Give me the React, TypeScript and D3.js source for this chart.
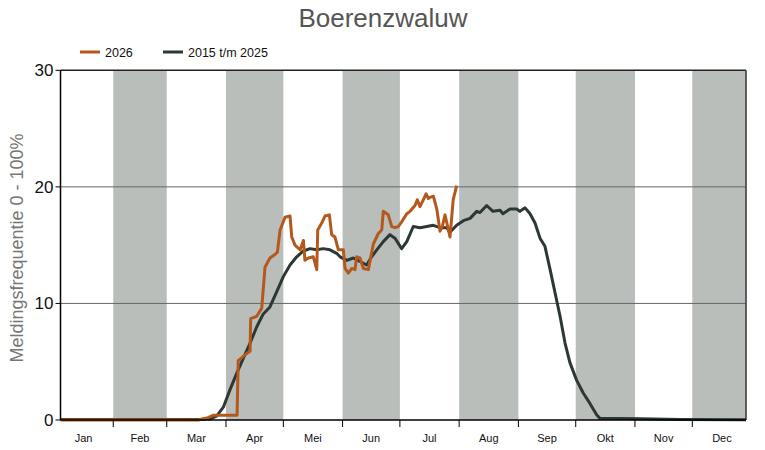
import React from "react";
import * as d3 from "d3";

const title = "Boerenzwaluw";
const yLabel = "Meldingsfrequentie 0 - 100%";
const seriesNames = ["2026", "2015 t/m 2025"];
const monthNames = ["Jan", "Feb", "Mar", "Apr", "Mei", "Jun", "Jul", "Aug", "Sep", "Okt", "Nov", "Dec"];
const monthStarts = [0, 31, 59, 90, 120, 151, 181, 212, 243, 273, 304, 334, 365];
const shadedMonths = [1, 3, 5, 7, 9, 11];
const yTicks = [0, 10, 20, 30];

// day of year (0 = 1 Jan), value
const days2026 = [3.4, 75.4, 80.6, 83.2, 95.8, 96.4, 100.8, 102.6, 102.9, 106.1, 108.7, 110.4, 113.0, 115.6, 116.9, 118.3, 120.9, 123.5, 124.4, 126.1, 128.8, 130.5, 131.3, 133.1, 135.7, 137.5, 138.0, 140.1, 141.8, 144.1, 145.3, 147.0, 148.8, 151.4, 152.3, 154.0, 155.8, 157.5, 158.4, 160.1, 161.9, 164.5, 167.1, 169.7, 171.5, 172.3, 174.9, 176.7, 178.4, 180.2, 181.9, 184.6, 186.3, 188.9, 190.1, 191.5, 193.3, 194.7, 195.9, 196.8, 198.5, 200.3, 202.0, 203.2, 204.6, 207.2, 208.9, 210.7];
const values2026 = [0.0, 0.0, 0.2, 0.4, 0.4, 5.1, 5.7, 5.9, 8.7, 8.9, 9.6, 13.1, 13.9, 14.2, 14.4, 16.3, 17.4, 17.5, 15.7, 15.0, 14.6, 15.4, 13.7, 13.9, 14.0, 12.9, 16.3, 16.9, 17.5, 17.6, 15.9, 15.7, 14.6, 14.6, 13.0, 12.6, 13.0, 12.9, 14.0, 13.9, 13.0, 12.9, 15.1, 16.0, 16.3, 17.9, 17.6, 16.6, 16.5, 16.6, 17.0, 17.7, 17.9, 18.4, 18.9, 18.3, 18.9, 19.4, 19.0, 19.1, 19.2, 18.1, 16.2, 16.6, 17.6, 15.7, 18.9, 20.1];

const daysHist = [3.4, 76.4, 81.6, 85.1, 88.6, 92.1, 95.6, 99.1, 102.6, 106.1, 109.5, 113.0, 116.5, 120.0, 123.5, 127.0, 130.5, 134.0, 137.5, 140.9, 144.4, 147.9, 149.7, 153.2, 156.6, 160.1, 163.6, 166.2, 168.9, 172.3, 175.8, 178.4, 181.9, 184.6, 188.0, 191.5, 195.0, 198.5, 202.0, 205.5, 207.2, 210.7, 214.2, 217.7, 221.2, 222.9, 226.4, 229.7, 233.4, 234.9, 238.6, 242.1, 243.8, 246.5, 249.1, 251.7, 254.3, 256.9, 259.6, 262.2, 264.8, 267.4, 270.0, 273.5, 277.0, 280.5, 284.0, 285.7, 306.6, 327.6, 362.1];
const valuesHist = [0.05, 0.05, 0.1, 0.34, 1.1, 2.6, 4.0, 5.3, 6.6, 8.0, 9.1, 9.7, 11.0, 12.3, 13.3, 14.0, 14.5, 14.7, 14.6, 14.7, 14.6, 14.3, 14.0, 13.7, 13.9, 13.6, 13.3, 14.0, 14.6, 15.3, 15.9, 15.6, 14.7, 15.3, 16.6, 16.5, 16.6, 16.7, 16.5, 16.5, 16.1, 16.7, 17.1, 17.3, 17.9, 17.8, 18.4, 17.9, 18.0, 17.7, 18.1, 18.1, 17.9, 18.2, 17.7, 16.9, 15.6, 14.9, 12.9, 10.9, 8.9, 6.6, 4.9, 3.4, 2.3, 1.4, 0.43, 0.14, 0.1, 0.05, 0.02];

const colors = ["#b5581b", "#2c3833"];
const bandColor = "#babebb";

export default function App() {
  const W = 765, H = 450;
  const left = 60.5, right = 746, top = 70.3, bottom = 420;
  const x = d3.scaleLinear().domain([3.4, 362.1]).range([left, right]);
  const y = d3.scaleLinear().domain([0, 30]).range([bottom, top]);
  const line = d3.line<[number, number]>().x(d => x(d[0])).y(d => y(d[1]));
  const s2026 = days2026.map((d, i) => [d, values2026[i]] as [number, number]);
  const sHist = daysHist.map((d, i) => [d, valuesHist[i]] as [number, number]);
  const font = "'Liberation Sans', Arial, sans-serif";
  const clamp = (v: number) => Math.max(left, Math.min(right, v));

  return (
    <svg width={W} height={H} style={{ position: "absolute", left: 0, top: 0, display: "block" }} fontFamily={font}>
      <rect x={0} y={0} width={W} height={H} fill="#fff" />
      <text x={383} y={27} textAnchor="middle" fontSize={26} fill="#555">{title}</text>
      {/* legend */}
      <line x1={80} x2={100} y1={52} y2={52} stroke={colors[0]} strokeWidth={3} />
      <text x={105} y={56.5} fontSize={12.5} fill="#111">{seriesNames[0]}</text>
      <line x1={163} x2={183} y1={52} y2={52} stroke={colors[1]} strokeWidth={3} />
      <text x={188} y={56.5} fontSize={12.5} fill="#111">{seriesNames[1]}</text>
      {/* shaded months */}
      {shadedMonths.map(m => {
        const x0 = clamp(x(monthStarts[m]));
        const x1 = clamp(x(monthStarts[m + 1]));
        return <rect key={m} x={x0} y={top} width={x1 - x0} height={bottom - top} fill={bandColor} />;
      })}
      {/* grid */}
      {yTicks.filter(t => t > 0 && t < 30).map(t => (
        <line key={t} x1={left} x2={right} y1={y(t)} y2={y(t)} stroke="#666" strokeWidth={1} />
      ))}
      {/* lines */}
      <path d={line(sHist) || ""} fill="none" stroke={colors[1]} strokeWidth={3} strokeLinejoin="round" />
      <path d={line(s2026) || ""} fill="none" stroke={colors[0]} strokeWidth={3} strokeLinejoin="round" />
      {/* frame */}
      <line x1={left} x2={right} y1={top} y2={top} stroke="#222" strokeWidth={1.5} />
      <line x1={right} x2={right} y1={top} y2={bottom} stroke="#333" strokeWidth={1.5} />
      <line x1={left} x2={left} y1={top} y2={bottom} stroke="#000" strokeWidth={1.5} />
      <line x1={left} x2={right} y1={bottom} y2={bottom} stroke="#000" strokeWidth={1.5} />
      {/* y ticks */}
      {yTicks.map(t => (
        <g key={t}>
          <line x1={left - 5} x2={left} y1={y(t)} y2={y(t)} stroke="#000" strokeWidth={1} />
          <text x={left - 7} y={y(t) + 6} textAnchor="end" fontSize={17} fill="#111">{t}</text>
        </g>
      ))}
      {/* x ticks */}
      {monthStarts.filter(d => x(d) > left + 1 && x(d) < right - 1).map(d => (
        <line key={d} x1={x(d)} x2={x(d)} y1={bottom} y2={bottom + 7} stroke="#000" strokeWidth={1} />
      ))}
      {monthNames.map((m, i) => (
        <text key={m} x={x((monthStarts[i] + monthStarts[i + 1]) / 2)} y={442} textAnchor="middle" fontSize={11} fill="#111">{m}</text>
      ))}
      <text transform={`translate(23,248) rotate(-90)`} textAnchor="middle" fontSize={18} fill="#777">{yLabel}</text>
    </svg>
  );
}
